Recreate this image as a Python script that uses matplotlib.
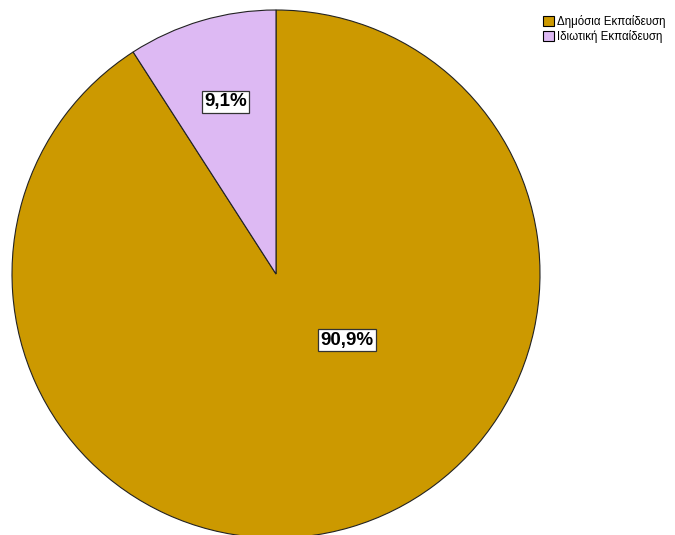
import numpy as np
import matplotlib
matplotlib.use('Agg')
import matplotlib.pyplot as plt
from matplotlib.patches import Patch

plt.rcParams['font.family'] = ['Liberation Sans', 'DejaVu Sans']

labels = ['Δημόσια Εκπαίδευση', 'Ιδιωτική Εκπαίδευση']
shares = [90.9, 9.1]
colors = ['#CC9900', '#DDB9F3']

fig = plt.figure(figsize=(6.75, 5.35), dpi=100)
W, H = 675, 535
cx, cy, r = 276, 274, 264
ax = fig.add_axes([(cx - r) / W, (H - cy - r) / H, 2 * r / W, 2 * r / H])

wedges, _ = ax.pie(shares, colors=colors, startangle=90, counterclock=False,
                   radius=1, wedgeprops=dict(edgecolor='#222222', linewidth=0.8))
ax.set_xlim(-1, 1)
ax.set_ylim(-1, 1)
ax.set_aspect('auto')
ax.axis('off')

# percentage labels: small slice on its bisector, large one nearer the centre
for w, v in zip(wedges, shares):
    mid = np.deg2rad((w.theta1 + w.theta2) / 2)
    if v > 50:
        x, y = 0.27, -0.25
    else:
        x, y = 0.68 * np.cos(mid), 0.68 * np.sin(mid)
    ax.text(x, y, f'{v:.1f}%'.replace('.', ','), ha='center', va='center',
            fontsize=13.5, fontweight='bold',
            bbox=dict(boxstyle='square,pad=0.12', fc='white', ec='#333333', lw=0.9))

handles = [Patch(facecolor=c, edgecolor='black', linewidth=0.8) for c in colors]
fig.legend(handles, labels, loc='upper left', bbox_to_anchor=(535 / W, 1 - 7 / H),
           frameon=False, fontsize=8.3, handlelength=0.95, handleheight=0.95,
           handletextpad=0.3, labelspacing=0.2, borderpad=0.2)

fig.savefig('out.png', dpi=100)
